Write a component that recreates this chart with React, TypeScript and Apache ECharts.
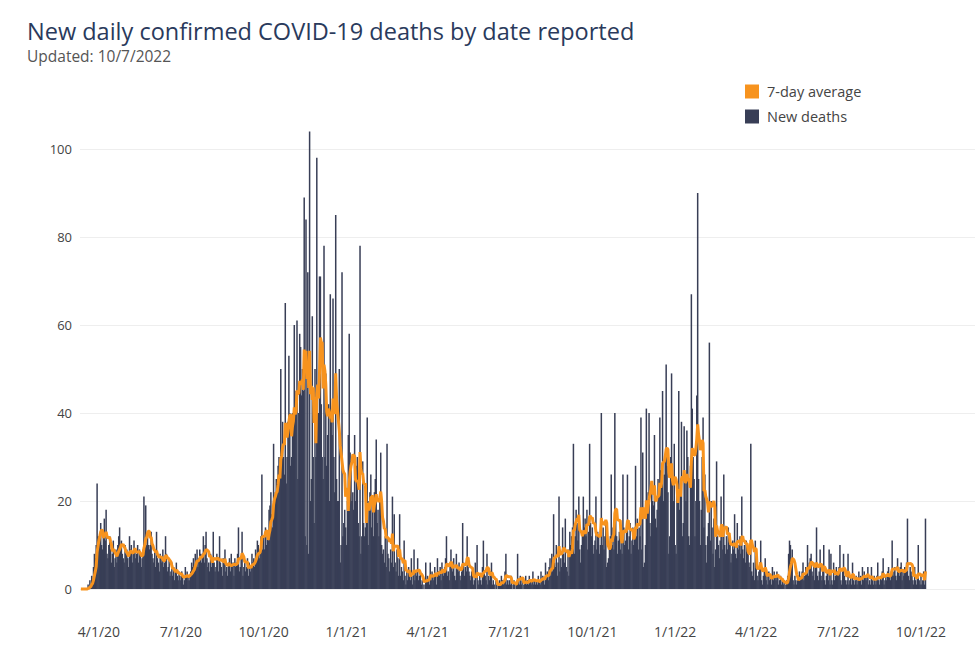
import React, { useEffect, useRef } from "react";
import * as echarts from "echarts";

// Daily new deaths, starting 3/12/2020 (one value per day)
const startDate = "2020-03-12";
const deaths2020 = [
  // Mar 12-31
  0,0,0,0,0,0,0, 0,1,0,2,1,3,2, 5,8,7,10,24,12,
  // Apr
  11,12,15,10,9,12,16,11,18,8, 7,10,12,9,6,8,11,5,7,9, 6,10,12,14,9,11,8,7,6,10,
  // May
  8,9,7,5,12,9,10,6,8,11, 9,7,8,10,6,9,8,5,7,9, 21,11,19,10,12,10,9,10,13,8,7,
  // Jun
  6,9,5,13,7,6,4,8,7,6, 9,5,6,12,8,4,5,7,3,4, 6,3,5,2,4,6,3,2,4,3,
  // Jul
  2,4,3,1,2,5,3,4,2,3, 2,4,6,5,7,4,8,6,9,5, 7,9,8,6,8,12,6,10,13,7,5,
  // Aug
  6,4,8,5,7,13,6,4,5,8, 7,4,12,6,5,3,7,6,9,4, 5,3,6,7,4,8,5,6,3,7,5,
  // Sep
  6,8,14,4,5,7,13,3,5,6, 4,5,7,3,6,4,5,8,6,7, 5,9,8,11,10,7,8,12,26,9,
  // Oct
  12,9,14,10,13,11,18,19,22,17, 14,33,20,22,25,24,28,30,27,50, 28,38,30,26,65,24,30,38,53,40,28,
  // Nov
  30,40,38,60,42,45,61,25,40,58, 55,44,50,45,89,12,84,10,72,8, 104,20,25,62,30,15,50,30,98,40,
  // Dec
  40,71,71,42,30,25,78,30,49,28, 35,42,20,67,38,35,66,30,22,85, 25,20,20,50,6,10,72,12,15,18,14,
];
const deaths2021 = [
  // Jan
  10,20,35,58,31,28,20,22,18,35, 20,28,30,15,12,78,8,12,29,15, 12,14,15,39,10,20,22,26,14,18,12,
  // Feb
  22,25,34,15,18,12,20,31,10,8, 9,6,12,5,33,8,7,4,9,6, 21,5,17,6,4,9,7,3,
  // Mar
  17,3,5,4,2,11,3,1,4,2, 5,3,2,7,1,3,9,2,4,3, 7,2,3,4,1,2,0,1,0,6,2,
  // Apr
  3,2,1,6,2,4,3,2,5,3, 1,7,4,3,5,2,6,4,3,5, 7,12,3,4,2,6,9,5,4,7,
  // May
  3,2,8,5,4,6,3,2,4,15, 6,3,5,4,12,5,4,3,2,4, 3,1,2,6,0,10,2,1,3,2,1,
  // Jun
  5,11,4,3,2,8,1,3,2,4, 6,1,2,1,0,2,1,0,1,2, 1,3,2,1,2,4,8,1,2,1,
  // Jul
  2,1,3,0,1,2,1,0,1,8, 2,1,3,1,2,0,1,2,3,1, 2,1,3,2,1,2,4,1,2,1,2,
  // Aug
  1,3,2,1,4,2,3,2,1,6, 3,4,2,5,7,3,8,4,17,6, 5,10,3,6,21,4,7,5,14,8,6,
  // Sep
  16,5,4,9,3,13,10,12,14,33, 8,12,18,15,11,21,9,6,10,12, 21,14,16,12,18,9,13,33,15,12,
  // Oct
  14,8,10,11,21,9,13,12,8,10, 40,10,14,9,12,15,5,6,7,9, 12,26,10,14,9,40,16,12,8,11,13,
  // Nov
  9,12,8,26,14,10,11,13,26,9, 12,15,8,11,14,10,13,28,12,16, 9,14,12,39,9,31,5,6,10,41,
  // Dec
  18,22,40,15,12,24,20,19,35,16, 14,18,25,22,39,27,24,45,20,26, 30,51,28,22,8,12,30,49,24,20,33,
];
const deaths2022 = [
  // Jan
  10,8,22,20,45,18,24,38,12,15, 37,25,20,36,30,12,10,28,67,41, 30,25,12,20,44,90,25,20,10,18,30,
  // Feb
  39,14,26,10,6,12,15,56,11,20, 14,8,16,5,9,29,12,10,7,11, 21,13,9,26,10,8,12,9,
  // Mar
  14,10,12,6,8,11,9,17,8,7, 15,9,10,12,8,21,9,7,10,6, 11,8,9,6,5,33,4,3,6,2,11,
  // Apr
  5,3,2,4,6,11,2,1,3,4, 7,2,3,1,4,2,3,1,5,2, 4,3,2,4,3,1,2,3,1,2,
  // May
  1,2,0,1,2,3,8,11,10,5, 9,2,1,3,2,1,2,3,4,2, 3,4,6,2,3,5,4,10,3,6,7,
  // Jun
  8,4,3,6,2,5,14,3,2,4, 9,3,2,5,10,2,1,3,4,2, 9,1,8,2,1,6,2,3,5,4,
  // Jul
  3,5,10,2,1,4,8,3,2,1, 2,8,1,2,3,1,6,2,1,2, 3,1,2,4,2,3,1,5,2,4,3,
  // Aug
  2,3,5,1,2,1,5,2,1,3, 2,1,3,6,2,1,3,2,4,7, 1,2,3,2,4,5,3,2,4,11,3,
  // Sep
  4,5,3,2,7,4,3,5,6,2, 4,3,5,4,6,16,3,2,5,4, 3,2,1,5,2,1,3,10,2,1,
  // Oct 1-6
  3,1,2,4,1,16,
];

const tickDates = [
  "2020-04-01", "2020-07-01", "2020-10-01", "2021-01-01", "2021-04-01", "2021-07-01",
  "2021-10-01", "2022-01-01", "2022-04-01", "2022-07-01", "2022-10-01",
];
const yTicks = [0, 20, 40, 60, 80, 100];
const axisStart = "2020-03-11";
const axisEnd = "2022-11-30";

const TITLE = "New daily confirmed COVID-19 deaths by date reported";
const SUBTITLE = "Updated: 10/7/2022";
const SERIES_AVG = "7-day average";
const SERIES_DEATHS = "New deaths";

const DAY = 86400000;
const toUTC = (s: string) => {
  const [y, m, d] = s.split("-").map(Number);
  return Date.UTC(y, m - 1, d);
};

export default function App() {
  const ref = useRef<HTMLDivElement>(null);
  useEffect(() => {
    if (!ref.current) return;
    const chart = echarts.init(ref.current, undefined, { renderer: "svg" });
    const daily = [...deaths2020, ...deaths2021, ...deaths2022];
    const t0 = toUTC(startDate);
    const dayIdx = (s: string) => Math.round((toUTC(s) - t0) / DAY);
    const barData = daily.map((v, i) => [i, v]);
    const avgData = daily.map((_, i) => {
      const lo = Math.max(0, i - 6);
      const win = daily.slice(lo, i + 1);
      const mean = win.reduce((a, b) => a + b, 0) / win.length;
      return [i, mean];
    });
    const ticks = tickDates.map(dayIdx);
    const font = "'Open Sans', 'Noto Sans', sans-serif";

    chart.setOption({
      animation: false,
      backgroundColor: "#ffffff",
      title: [
        {
          text: TITLE,
          left: 27,
          top: 19,
          padding: 0,
          textStyle: {
            fontFamily: font, fontSize: 23.5, lineHeight: 24,
            fontWeight: "normal", color: "#2a3a5c",
          },
        },
        {
          text: SUBTITLE,
          left: 27,
          top: 48,
          padding: 0,
          textStyle: {
            fontFamily: font, fontSize: 15.5, lineHeight: 15,
            fontWeight: "normal", color: "#555555",
          },
        },
      ],
      legend: {
        orient: "vertical",
        left: 745,
        top: 84,
        padding: 0,
        itemWidth: 14,
        itemHeight: 14,
        itemGap: 10,
        icon: "rect",
        data: [SERIES_AVG, SERIES_DEATHS],
        textStyle: { fontFamily: font, fontSize: 14.5, color: "#444444", padding: [0, 0, 0, 3] },
      },
      grid: { left: 80, right: 5, top: 149, bottom: 66, containLabel: false },
      xAxis: {
        type: "value",
        min: dayIdx(axisStart),
        max: dayIdx(axisEnd),
        axisLine: { show: false },
        axisTick: { show: false },
        splitLine: { show: false },
        axisLabel: {
          customValues: ticks,
          margin: 35,
          color: "#444444",
          fontSize: 14,
          fontFamily: font,
          formatter: (v: number) => {
            const d = new Date(t0 + v * DAY);
            return `${d.getUTCMonth() + 1}/${d.getUTCDate()}/${String(d.getUTCFullYear()).slice(2)}`;
          },
        },
      },
      yAxis: {
        type: "value",
        min: yTicks[0],
        max: yTicks[yTicks.length - 1],
        interval: 20,
        axisLine: { show: false },
        axisTick: { show: false },
        axisLabel: { color: "#444444", fontSize: 13, fontFamily: font, margin: 8 },
        splitLine: { lineStyle: { color: "#eeeeee", width: 1 } },
      },
      series: [
        {
          name: SERIES_DEATHS,
          type: "bar",
          data: barData,
          barWidth: 1.5,
          clip: false,
          itemStyle: { color: "#383e56" },
          z: 2,
        },
        {
          name: SERIES_AVG,
          type: "line",
          data: avgData,
          showSymbol: false,
          symbol: "none",
          clip: false,
          lineStyle: { color: "#f7931e", width: 3 },
          itemStyle: { color: "#f7931e" },
          z: 3,
        },
      ],
    });
    return () => chart.dispose();
  }, []);
  return (
    <div
      ref={ref}
      style={{ position: "absolute", left: 0, top: 0, width: 980, height: 655 }}
    />
  );
}
